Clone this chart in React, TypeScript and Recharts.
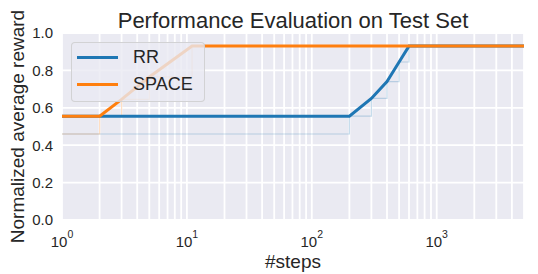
import React from "react";
import { LineChart, Line, XAxis, YAxis, CartesianGrid, Legend } from "recharts";

// evaluation steps and normalized rewards
const rrSteps = [1, 200, 300, 400, 500, 600, 5000];
const rrReward = [0.555, 0.555, 0.65, 0.74, 0.845, 0.93, 0.93];
const rrLower = [0.46, 0.555, 0.65, 0.74, 0.845, 0.93, 0.93];

const spaceSteps = [1, 2, 3, 5, 11, 5000];
const spaceReward = [0.555, 0.555, 0.645, 0.765, 0.93, 0.93];
const spaceLower = [0.46, 0.555, 0.645, 0.765, 0.93, 0.93];

const xTicks = [
  1, 2, 3, 4, 5, 6, 7, 8, 9,
  10, 20, 30, 40, 50, 60, 70, 80, 90,
  100, 200, 300, 400, 500, 600, 700, 800, 900,
  1000, 2000, 3000, 4000,
];
const yTicks = [0, 0.2, 0.4, 0.6, 0.8, 1.0];

const font = "'Liberation Sans', Arial, sans-serif";
const ink = "#262626";
const blue = "#1f77b4";
const orange = "#ff7f0e";

const toRows = (steps: number[], values: number[]) =>
  steps.map((x, i) => ({ x, y: values[i] }));

function LogTick({ x, y, payload }: any) {
  const exp = Math.log10(payload.value);
  if (Math.abs(exp - Math.round(exp)) > 1e-9) return <g />;
  return (
    <text x={x} y={y + 27} textAnchor="middle" fontSize={15} fill={ink} fontFamily={font}>
      <tspan>10</tspan>
      <tspan dy={-9} fontSize={10.5}>{Math.round(exp)}</tspan>
    </text>
  );
}

function LegendBox({ payload }: any) {
  const items = (payload || []).filter((p: any) => p.type !== "none" && p.value !== "y");
  return (
    <div
      style={{
        width: 134,
        height: 60,
        boxSizing: "border-box",
        paddingTop: 0.5,
        background: "rgba(234,234,242,0.8)",
        border: "1px solid rgba(204,204,204,0.8)",
        borderRadius: 4,
        fontFamily: font,
      }}
    >
      {items.map((p: any) => (
        <div key={p.value} style={{ display: "flex", alignItems: "center", height: 27 }}>
          <div style={{ width: 41, height: 3, marginLeft: 5, background: p.color }} />
          <span style={{ marginLeft: 15, fontSize: 18, lineHeight: "27px", color: ink }}>{p.value}</span>
        </div>
      ))}
    </div>
  );
}

export default function App() {
  return (
    <div style={{ position: "absolute", left: 0, top: 0, width: 538, height: 274, fontFamily: font, color: ink }}>
      <LineChart width={538} height={274} margin={{ top: 33, right: 14, bottom: 0, left: 0 }}>
        <CartesianGrid fill="#EAEAF2" stroke="#ffffff" strokeWidth={1.8} />
        <XAxis
          dataKey="x"
          type="number"
          scale="log"
          domain={[1, 5000]}
          allowDataOverflow
          ticks={xTicks}
          interval={0}
          height={54}
          axisLine={false}
          tickLine={false}
          tickSize={0}
          tickMargin={0}
          tick={<LogTick />}
        />
        <YAxis
          type="number"
          domain={[0, 1]}
          ticks={yTicks}
          width={62}
          axisLine={false}
          tickLine={false}
          tickSize={0}
          tickMargin={9}
          tickFormatter={(v: number) => v.toFixed(1)}
          tick={{ fontSize: 15, fill: ink, fontFamily: font }}
        />
        <Legend
          layout="horizontal"
          verticalAlign="middle"
          align="center"
          content={<LegendBox />}
          wrapperStyle={{ left: 71, top: 42, width: 134, height: 60 }}
        />
        <Line
          data={toRows(rrSteps, rrLower)}
          dataKey="y"
          type="stepAfter"
          stroke={blue}
          strokeOpacity={0.25}
          strokeWidth={1.2}
          dot={false}
          legendType="none"
          isAnimationActive={false}
        />
        <Line
          data={toRows(spaceSteps, spaceLower)}
          dataKey="y"
          type="stepAfter"
          stroke={orange}
          strokeOpacity={0.25}
          strokeWidth={1.2}
          dot={false}
          legendType="none"
          isAnimationActive={false}
        />
        <Line
          data={toRows(rrSteps, rrReward)}
          dataKey="y"
          name="RR"
          type="linear"
          stroke={blue}
          strokeWidth={3}
          dot={false}
          isAnimationActive={false}
        />
        <Line
          data={toRows(spaceSteps, spaceReward)}
          dataKey="y"
          name="SPACE"
          type="linear"
          stroke={orange}
          strokeWidth={3}
          dot={false}
          isAnimationActive={false}
        />
      </LineChart>
      <div
        style={{
          position: "absolute",
          left: 0,
          top: 9.7,
          width: 586,
          textAlign: "center",
          fontSize: 22,
          lineHeight: "22px",
        }}
      >
        Performance Evaluation on Test Set
      </div>
      <div
        style={{
          position: "absolute",
          left: 0,
          top: 252,
          width: 586,
          textAlign: "center",
          fontSize: 19,
          lineHeight: "19px",
        }}
      >
        #steps
      </div>
      <div
        style={{
          position: "absolute",
          left: 17 - 150,
          top: 126 - 9.5,
          width: 300,
          textAlign: "center",
          fontSize: 19,
          lineHeight: "19px",
          transform: "rotate(-90deg)",
          whiteSpace: "nowrap",
        }}
      >
        Normalized average reward
      </div>
    </div>
  );
}
